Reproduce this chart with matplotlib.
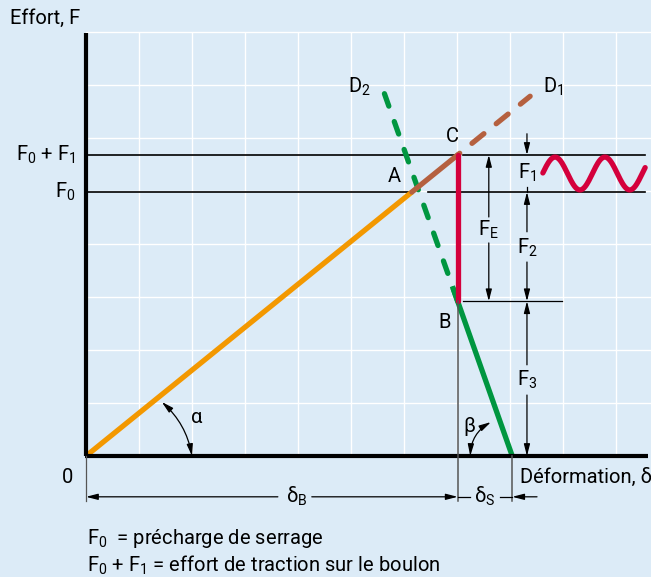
import numpy as np
import matplotlib
matplotlib.use('Agg')
import matplotlib.pyplot as plt
from matplotlib.patches import FancyArrowPatch

plt.rcParams['font.family'] = ['Roboto', 'DejaVu Sans']
plt.rcParams['mathtext.fontset'] = 'custom'
plt.rcParams['mathtext.rm'] = 'Roboto'
plt.rcParams['mathtext.it'] = 'Roboto:italic'
plt.rcParams['mathtext.bf'] = 'Roboto:bold'

# diagram values, in grid units
F0 = 4.98          # precharge de serrage
F1 = 0.70          # part of the external load taken by the bolt
F3 = 2.92          # remaining clamp force (point B)
k_bolt = 0.81      # slope of bolt line (tan alpha)
delta_S = 1.03     # deformation of the clamped parts
D1_x = 8.38        # end of dashed bolt line
D2_y = 6.96        # top of dashed joint line

x_A = F0 / k_bolt
delta_B = (F0 + F1) / k_bolt       # x of C and B
x_foot = delta_B + delta_S
k_joint = F3 / delta_S
x_D2 = x_foot - D2_y / k_joint

# alternating load symbol
wave_x = np.linspace(8.62, 10.55, 150)
wave_mid, wave_amp, wave_period, wave_peak = 5.33, 0.31, 0.94, 8.85
wave_y = wave_mid + wave_amp * np.cos(2 * np.pi * (wave_x - wave_peak) / wave_period)

BG = '#dcebf7'
ORANGE = '#f39800'
BROWN = '#b5603f'
GREEN = '#009640'
RED = '#d4003c'
GREY = '#555555'

fig = plt.figure(figsize=(6.51, 5.77), dpi=100, facecolor=BG)
ax = fig.add_axes([0, 0, 1, 1])
ax.set_facecolor(BG)
ax.set_xlim(-86 / 53, 565 / 53)
ax.set_ylim(-121 / 53, 456 / 53)
ax.axis('off')

# grid
for gx in range(1, 11):
    ax.plot([gx, gx], [0, 7.98], color='white', lw=1, zorder=1)
for gy in range(1, 9):
    ax.plot([0, 10.7], [gy, gy], color='white', lw=1, zorder=1)

# axes
ax.plot([0, 0], [0, 7.98], color='black', lw=3, solid_capstyle='butt', zorder=6)
ax.plot([-0.02, 10.6], [0, 0], color='black', lw=3, solid_capstyle='butt', zorder=6)

# force levels
ax.plot([0, delta_B], [F0 + F1] * 2, color='black', lw=1.2, zorder=2)
ax.plot([delta_B + 0.1, 10.55], [F0 + F1] * 2, color='black', lw=1.2, zorder=2)
ax.plot([0, x_A], [F0] * 2, color='black', lw=1.2, zorder=2)
ax.plot([x_A + 0.3, 10.55], [F0] * 2, color='black', lw=1.2, zorder=2)

# bolt line
ax.plot([0, x_A], [0, F0], color=ORANGE, lw=3.8, solid_capstyle='butt', zorder=4)
ax.plot([x_A, delta_B], [F0, F0 + F1], color=BROWN, lw=3.8, solid_capstyle='round', zorder=4)
ax.plot([delta_B, D1_x], [F0 + F1, k_bolt * D1_x], color=BROWN, lw=3.8,
        linestyle=(2.4, (2.9, 3.0)), dash_capstyle='round', zorder=4)

# joint line
ax.plot([delta_B, x_D2], [F3, D2_y], color=GREEN, lw=3.8,
        linestyle=(0, (2.5, 3.1)), dash_capstyle='round', zorder=3)
ax.plot([delta_B - 0.1, x_foot], [F3 + 0.1 * k_joint, 0], color=GREEN, lw=3.8,
        solid_capstyle='butt', zorder=4)

# external load
ax.plot([delta_B, delta_B], [F0 + F1, F3], color=RED, lw=3.8, solid_capstyle='round', zorder=5)
ax.plot(wave_x, wave_y, color=RED, lw=3.8, solid_capstyle='round', zorder=5)


def arrow(x0, y0, x1, y1, color='black', lw=0.9):
    ax.annotate('', xy=(x1, y1), xytext=(x0, y0),
                arrowprops=dict(arrowstyle='-|>,head_length=0.7,head_width=0.18',
                                color=color, lw=lw, shrinkA=0, shrinkB=0,
                                mutation_scale=10), zorder=7)


def seg(x0, y0, x1, y1, color='black', lw=0.9):
    ax.plot([x0, x1], [y0, y1], color=color, lw=lw, zorder=7)


# F_E dimension
xFE = 7.6
arrow(xFE, 4.51, xFE, F0 + F1)
arrow(xFE, 4.02, xFE, F3)
seg(delta_B + 0.1, F3, 8.98, F3)

# F1, F2, F3 dimensions
xF = 8.32
arrow(xF, 6.08, xF, F0 + F1)
seg(xF, 5.08, xF, F0)
arrow(xF, 4.23, xF, F0)
arrow(xF, 3.66, xF, F3)
arrow(xF, 1.72, xF, F3)
arrow(xF, 1.15, xF, 0)

# deformation dimensions
yd = -0.77
seg(0, 0, 0, -0.84, color=GREY)
seg(delta_B, F3, delta_B, -0.84, color=GREY, lw=1.1)
seg(x_foot, 0, x_foot, -0.84, color=GREY, lw=1.1)
arrow(3.62, yd, 0, yd)
arrow(4.26, yd, delta_B, yd)
seg(delta_B, yd, 7.25, yd)
seg(7.81, yd, x_foot, yd)
arrow(8.51, yd, x_foot, yd)

# angle arcs
for p0, p1, rad in [((1.43, 1.02), (2.0, 0.0), -0.17),
                    ((7.64, 0.64), (7.25, 0.0), 0.27)]:
    ax.add_patch(FancyArrowPatch(p0, p1, connectionstyle='arc3,rad=%s' % rad,
                                 arrowstyle='<|-|>,head_length=0.7,head_width=0.18',
                                 mutation_scale=10, lw=0.9, color='black',
                                 shrinkA=0, shrinkB=0, zorder=7))

fs = 14.5
ax.text(-1.43, 8.26, 'Effort, F', fontsize=fs, ha='left', va='center')
ax.text(-0.19, F0 + F1, 'F$_0$ + F$_1$', fontsize=fs, ha='right', va='center')
ax.text(-0.19, F0, 'F$_0$', fontsize=fs, ha='right', va='center')
ax.text(-0.34, -0.40, '0', fontsize=fs, ha='center', va='center')
ax.text(8.19, -0.40, 'Déformation, δ', fontsize=fs, ha='left', va='center')
ax.text(6.91, 6.02, 'C', fontsize=fs, ha='center', va='center')
ax.text(5.81, 5.28, 'A', fontsize=fs, ha='center', va='center')
ax.text(6.77, 2.51, 'B', fontsize=fs, ha='center', va='center')
ax.text(5.15, 6.96, 'D$_2$', fontsize=fs, ha='center', va='center')
ax.text(8.81, 6.96, 'D$_1$', fontsize=fs, ha='center', va='center')
ax.text(2.09, 0.72, 'α', fontsize=fs, ha='center', va='center')
ax.text(7.23, 0.55, 'β', fontsize=fs, ha='center', va='center')
ax.text(xFE, 4.26, r'F$_\mathrm{E}$', fontsize=fs, ha='center', va='center')
ax.text(xF, 5.34, 'F$_1$', fontsize=fs, ha='center', va='center')
ax.text(xF, 3.92, 'F$_2$', fontsize=fs, ha='center', va='center')
ax.text(xF, 1.43, 'F$_3$', fontsize=fs, ha='center', va='center')
ax.text(3.98, yd, r'δ$_\mathrm{B}$', fontsize=fs, ha='center', va='center')
ax.text(7.53, yd, r'δ$_\mathrm{S}$', fontsize=fs, ha='center', va='center')

ax.text(0.02, -1.55, 'F$_0$  = précharge de serrage', fontsize=fs, ha='left', va='center')
ax.text(0.02, -2.06, 'F$_0$ + F$_1$ = effort de traction sur le boulon', fontsize=fs,
        ha='left', va='center')

fig.savefig('out.png', dpi=100, facecolor=BG)
